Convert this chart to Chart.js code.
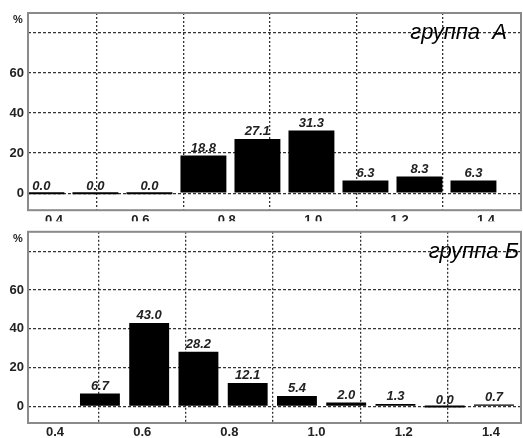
<!DOCTYPE html>
<html>
<head>
<meta charset="utf-8">
<script src="https://cdn.jsdelivr.net/npm/chart.js@4.4.1/dist/chart.umd.min.js"></script>
<style>
  html, body { margin: 0; padding: 0; background: #fff; }
  #wrap { position: relative; width: 523px; height: 438px; overflow: hidden; }
  .box { position: absolute; left: 0; width: 523px; }
  #boxA { top: 0; height: 222px; }
  #boxB { top: 220px; height: 218px; }
</style>
</head>
<body>
<div id="wrap">
  <div class="box" id="boxA"><canvas id="chartA"></canvas></div>
  <div class="box" id="boxB"><canvas id="chartB"></canvas></div>
</div>
<script>
// Данные: центры интервалов и доли (%)
const binsA = [0.371, 0.496, 0.621, 0.746, 0.871, 0.996, 1.121, 1.246, 1.371];
const valuesA = [0.0, 0.0, 0.0, 18.8, 27.1, 31.3, 6.3, 8.3, 6.3];
const binsB = [0.503, 0.616, 0.729, 0.842, 0.955, 1.068, 1.181, 1.294, 1.407];
const valuesB = [6.7, 43.0, 28.2, 12.1, 5.4, 2.0, 1.3, 0.0, 0.7];
const xTicks = [0.4, 0.6, 0.8, 1.0, 1.2, 1.4];
const yTicks = [0, 20, 40, 60, 80];
const titleA = 'группа  А';
const titleB = 'группа Б';

// Рамка, подписи значений, заголовок группы и знак %
const decorPlugin = {
    id: 'decor',
    afterDatasetsDraw(chart, args, opts) {
        const ctx = chart.ctx;
        const area = chart.chartArea;
        ctx.save();
        // подписи над столбцами
        const meta = chart.getDatasetMeta(0);
        const vals = chart.data.datasets[0].data;
        ctx.font = opts.labelFont;
        ctx.fillStyle = '#222';
        ctx.textAlign = 'center';
        ctx.textBaseline = 'bottom';
        meta.data.forEach((bar, i) => {
            ctx.fillText(vals[i].y.toFixed(1), bar.x, bar.y - 1);
        });
        // рамка области графика
        ctx.strokeStyle = '#8a8a8a';
        ctx.lineWidth = 2;
        ctx.strokeRect(area.left, area.top, area.right - area.left, area.bottom - area.top);
        // знак процента
        ctx.font = 'bold 11px Arial';
        ctx.fillStyle = '#222';
        ctx.textAlign = 'center';
        ctx.textBaseline = 'middle';
        ctx.fillText('%', 18, area.top + 7);
        // заголовок группы
        ctx.font = 'italic 22px Arial';
        ctx.fillStyle = '#000';
        ctx.textAlign = 'right';
        ctx.textBaseline = 'alphabetic';
        ctx.fillText(opts.title, opts.titleRight, area.top + opts.titleOffset);
        ctx.restore();
    }
};

function makeChart(canvasId, bins, values, o) {
    const points = bins.map((b, i) => ({ x: b, y: values[i] }));
    return new Chart(document.getElementById(canvasId), {
        type: 'bar',
        data: {
            datasets: [{
                data: points,
                backgroundColor: '#000',
                borderWidth: 0,
                categoryPercentage: 1,
                barPercentage: o.barPct,
                minBarLength: 2
            }]
        },
        options: {
            responsive: true,
            maintainAspectRatio: false,
            animation: false,
            layout: { padding: { top: o.padTop, right: 2, left: 0, bottom: 0 } },
            plugins: {
                legend: { display: false },
                tooltip: { enabled: false },
                decor: {
                    title: o.title,
                    titleRight: o.titleRight,
                    titleOffset: o.titleOffset,
                    labelFont: o.labelFont
                }
            },
            scales: {
                x: {
                    type: 'linear',
                    min: o.xMin,
                    max: o.xMax,
                    offset: false,
                    afterBuildTicks: s => { s.ticks = xTicks.map(v => ({ value: v })); },
                    afterFit: s => { s.height = o.xHeight; },
                    border: { display: false, dash: [2, 2] },
                    grid: { color: '#333', lineWidth: 1.3, drawTicks: false },
                    ticks: {
                        color: '#222',
                        font: { family: 'Arial', size: 13, weight: 'bold' },
                        padding: 2,
                        maxRotation: 0,
                        callback: v => v.toFixed(1)
                    }
                },
                y: {
                    min: -8.5,
                    max: 90,
                    afterBuildTicks: s => { s.ticks = yTicks.map(v => ({ value: v })); },
                    afterFit: s => { s.width = 28; },
                    border: { display: false, dash: [3, 2] },
                    grid: { color: '#333', lineWidth: 1.3, drawTicks: false },
                    ticks: {
                        color: '#222',
                        font: { family: 'Arial', size: 13, weight: 'bold' },
                        padding: 4,
                        callback: v => (v === 80 ? '' : v)
                    }
                }
            }
        },
        plugins: [decorPlugin]
    });
}

makeChart('chartA', binsA, valuesA, {
    padTop: 13, xHeight: 11, xMin: 0.34, xMax: 1.481, barPct: 0.85,
    title: titleA, titleRight: 507, titleOffset: 26,
    labelFont: 'italic bold 13px Arial'
});
makeChart('chartB', binsB, valuesB, {
    padTop: 5, xHeight: 15, xMin: 0.338, xMax: 1.469, barPct: 0.81,
    title: titleB, titleRight: 519, titleOffset: 26,
    labelFont: 'italic bold 13px Arial'
});
</script>
</body>
</html>
